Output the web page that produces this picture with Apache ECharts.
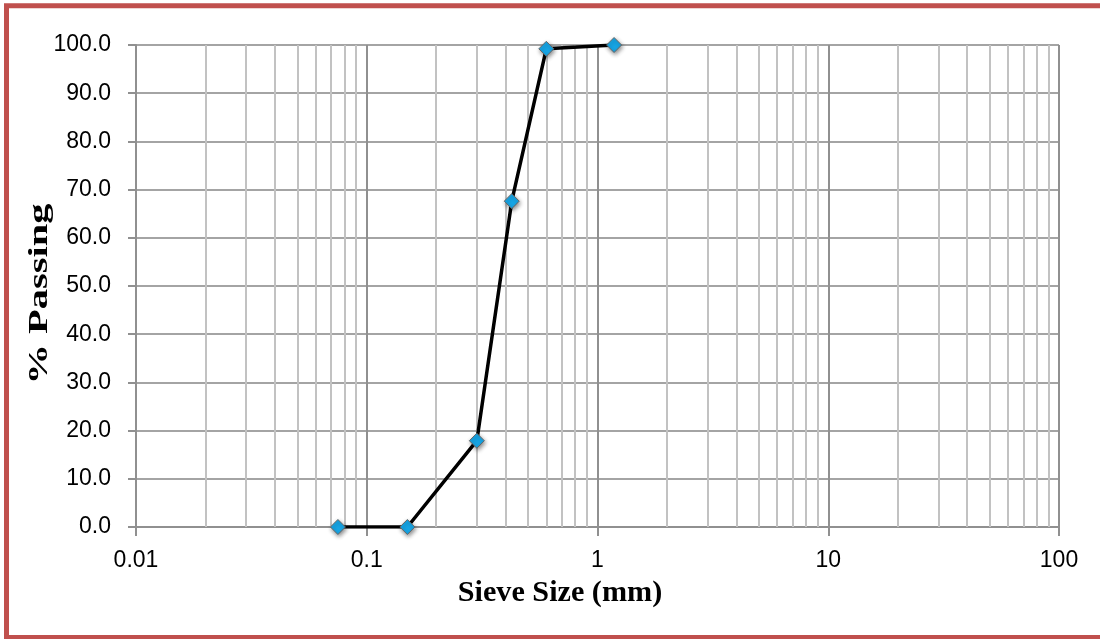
<!DOCTYPE html>
<html>
<head>
<meta charset="utf-8">
<script src="https://cdn.jsdelivr.net/npm/echarts@6/dist/echarts.min.js"></script>
<style>
  html, body { margin: 0; padding: 0; background: #ffffff; }
  #chart { width: 1100px; height: 639px; }
</style>
</head>
<body>
<div id="chart"></div>
<script>
// Grain size distribution: sieve opening (mm) vs cumulative % passing
const sieveSizes = [0.075, 0.15, 0.3, 0.425, 0.6, 1.18];
const percentPassing = [0, 0, 17.9, 67.6, 99.2, 100];
const xTickLabels = ['0.01', '0.1', '1', '10', '100'];
const decadeStarts = [0.01, 0.1, 1, 10];
const minorMultipliers = [2, 3, 4, 5, 6, 7, 8, 9];

// light gridlines inside every decade of the log axis
const minorGrid = [];
decadeStarts.forEach(d => minorMultipliers.forEach(m => minorGrid.push({ xAxis: +(d * m).toPrecision(6) })));

const chart = echarts.init(document.getElementById('chart'), null, { renderer: 'canvas' });

const tickFont = { fontFamily: 'Liberation Sans', fontSize: 23, color: '#000000' };
const majorGray = '#909090';

chart.setOption({
  animation: false,
  backgroundColor: '#ffffff',
  grid: { left: 136, right: 41, top: 45, bottom: 112, containLabel: false },
  xAxis: {
    type: 'log',
    logBase: 10,
    min: 0.01,
    max: 100,
    axisLine: { show: true, lineStyle: { color: majorGray, width: 2 } },
    axisTick: { show: true, inside: false, length: 9, lineStyle: { color: majorGray, width: 2 } },
    axisLabel: Object.assign({ margin: 22, formatter: (v, i) => xTickLabels[i] }, tickFont),
    splitLine: { show: true, lineStyle: { color: majorGray, width: 2 } },
    minorTick: { show: false },
    minorSplitLine: { show: false }
  },
  yAxis: {
    type: 'value',
    min: 0,
    max: 100,
    interval: 10,
    axisLine: { show: true, lineStyle: { color: majorGray, width: 2 } },
    axisTick: { show: true, inside: false, length: 8, lineStyle: { color: majorGray, width: 2 } },
    axisLabel: Object.assign({ margin: 25, formatter: v => v.toFixed(1) }, tickFont),
    splitLine: { show: true, lineStyle: { color: '#a4a4a4', width: 2 } }
  },
  series: [
    {
      name: 'grid-minor',
      type: 'line',
      z: 1,
      silent: true,
      showSymbol: false,
      lineStyle: { opacity: 0 },
      data: sieveSizes.map((x, i) => [x, percentPassing[i]]),
      markLine: {
        silent: true,
        symbol: ['none', 'none'],
        label: { show: false },
        emphasis: { disabled: true },
        lineStyle: { color: '#c2c2c2', width: 2, type: 'solid' },
        data: minorGrid
      }
    },
    {
      name: '% Passing',
      type: 'line',
      z: 5,
      data: sieveSizes.map((x, i) => [x, percentPassing[i]]),
      symbol: 'diamond',
      symbolSize: 15,
      showSymbol: true,
      lineStyle: { color: '#000000', width: 3.5 },
      itemStyle: {
        color: '#17a6e6',
        borderColor: '#666666',
        borderWidth: 1,
        shadowBlur: 4,
        shadowColor: 'rgba(0,0,0,0.45)',
        shadowOffsetX: 1,
        shadowOffsetY: 2
      }
    }
  ],
  graphic: [
    {
      type: 'rect',
      silent: true,
      z: 100,
      shape: { x: 6.5, y: 5.75, width: 1110, height: 631.75 },
      style: { fill: 'none', stroke: '#c0504d', lineWidth: 5 }
    },
    {
      type: 'text',
      silent: true,
      x: 560,
      y: 594,
      scaleX: 1.04,
      style: {
        text: 'Sieve Size (mm)',
        font: 'bold 29px "Liberation Serif"',
        fill: '#000000',
        align: 'center',
        verticalAlign: 'middle'
      }
    },
    {
      type: 'text',
      silent: true,
      x: 40,
      y: 294,
      rotation: Math.PI / 2,
      scaleX: 1.5,
      style: {
        text: '% Passing',
        font: 'bold 27px "Liberation Serif"',
        fill: '#000000',
        align: 'center',
        verticalAlign: 'middle'
      }
    }
  ]
});
</script>
</body>
</html>
